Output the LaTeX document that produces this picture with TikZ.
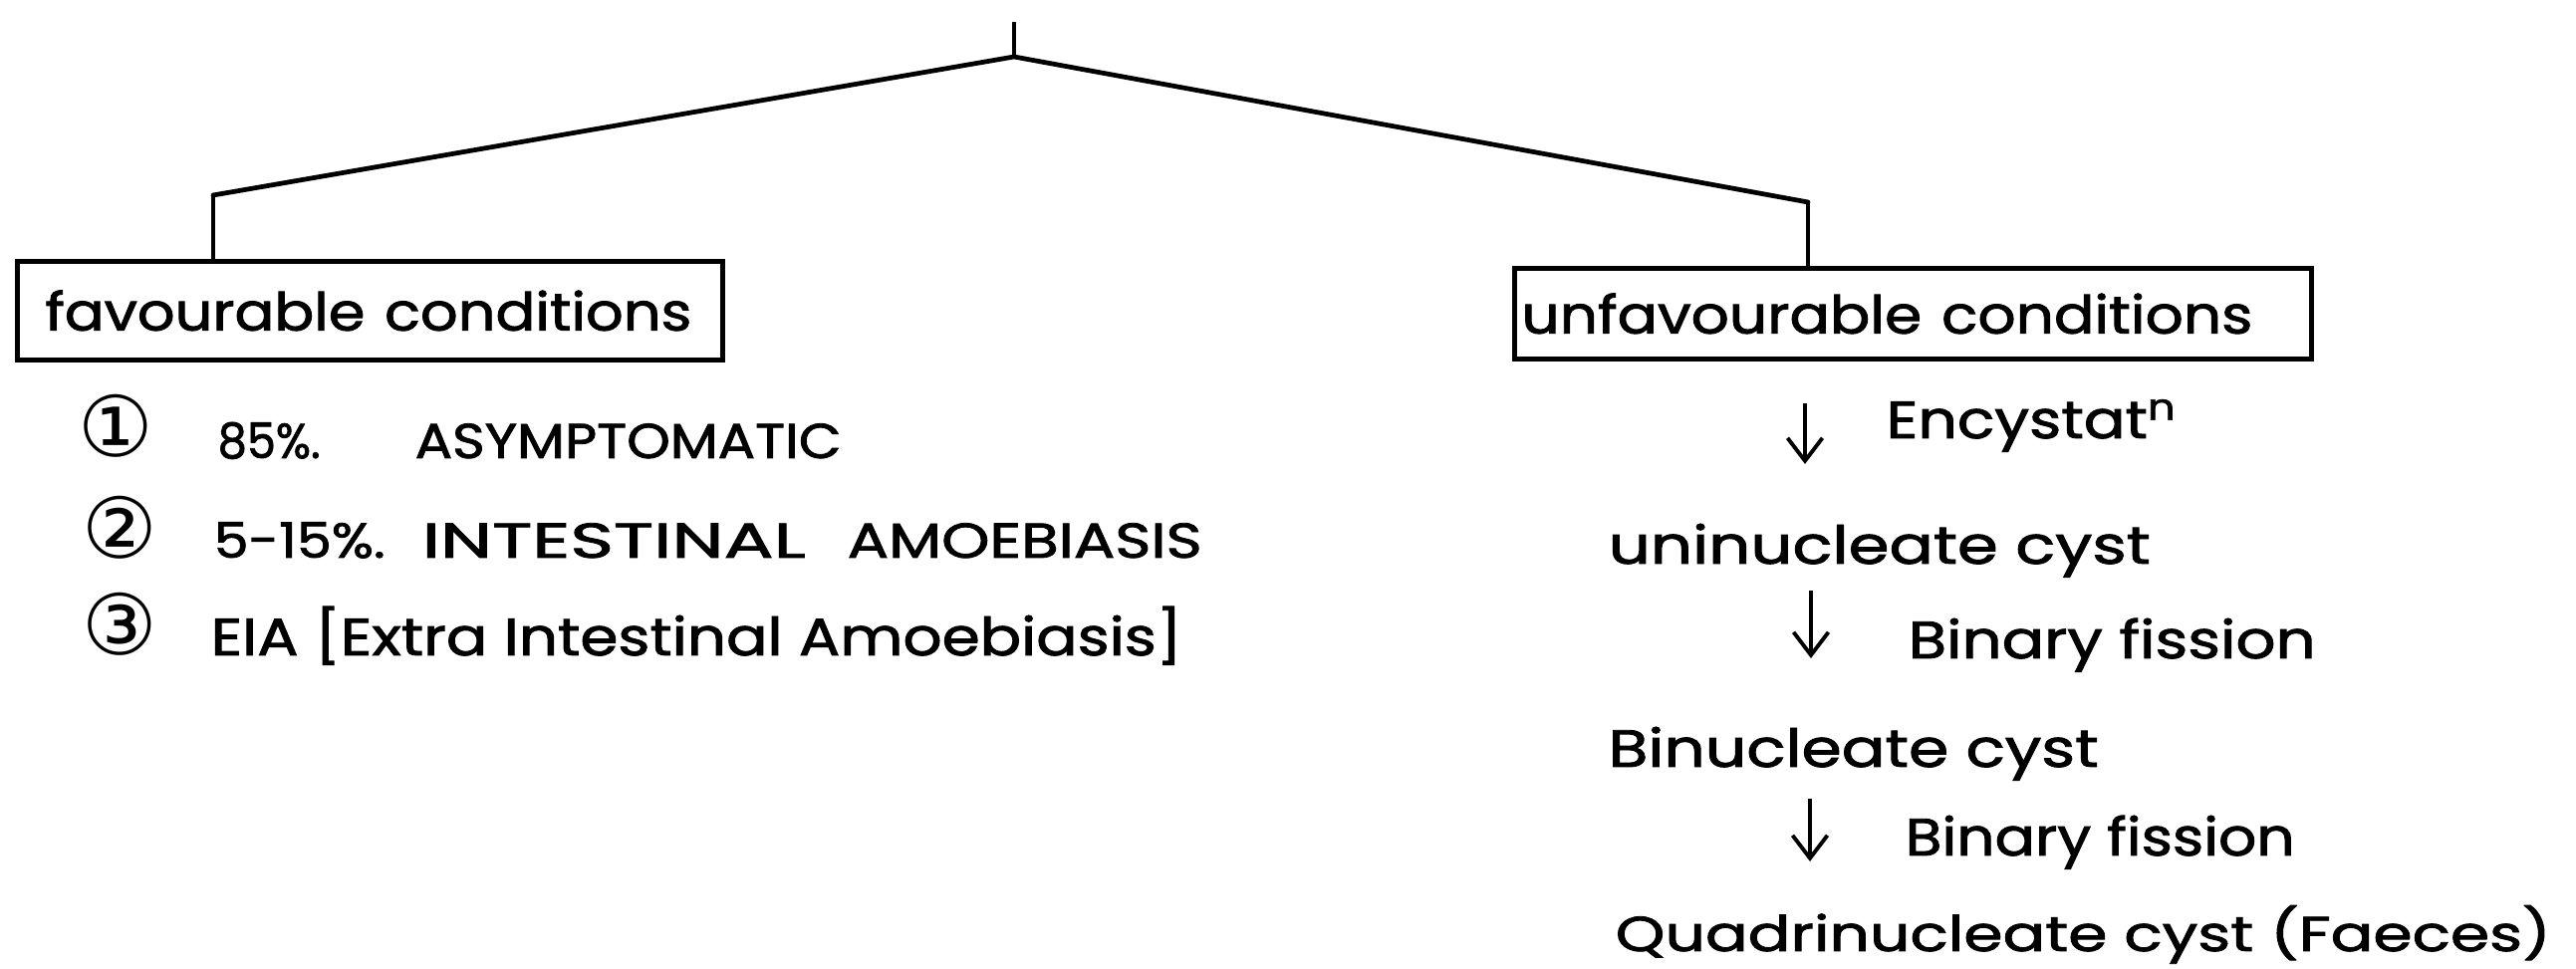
\documentclass[tikz,border=0pt]{standalone}
\usepackage{fontspec}
\usepackage{graphicx}
\setmainfont{Poppins}[FakeBold=1.6]
\newfontfamily\symf{DejaVu Sans}
\usetikzlibrary{arrows.meta}
\newcommand{\fitw}[2]{\resizebox{#1}{\height}{#2}}
\begin{document}
\begin{tikzpicture}[x=0.1mm,y=-0.1mm,
  box/.style={draw, line width=1.35pt, rectangle, anchor=north west, inner ysep=0pt, align=left},
  lbl/.style={anchor=base west, inner sep=0pt, font=\fontsize{15}{18}\selectfont},
  caps/.style={anchor=base west, inner sep=0pt, font=\fontsize{14}{17}\selectfont},
  num/.style={inner sep=0pt, font=\symf\fontsize{24}{28}\selectfont},
  stem/.style={line width=0.95pt},
  branch/.style={line width=1.35pt, line cap=round, line join=round},
  flow/.style={line width=1.1pt, -{Straight Barb[length=2.3mm,width=3.5mm,line width=1.1pt]}}
]
\useasboundingbox (0,0) rectangle (2586,973);
% tree
\coordinate (top) at (1018,22);
\coordinate (apex) at (1018,57);
\coordinate (lc) at (214,196);
\coordinate (rc) at (1815,203);
\node[box, minimum width=70.8mm, minimum height=9.9mm, text width=65.2mm, inner xsep=2.8mm, font=\fontsize{15}{18}\selectfont] (fav) at (15,260) {\fitw{64.9mm}{favourable conditions}};
\node[box, minimum width=80mm, minimum height=9.1mm, text width=78.6mm, inner xsep=0.7mm, font=\fontsize{15}{18}\selectfont] (unfav) at (1518,267) {\fitw{73.4mm}{unfavourable conditions}};
\draw[stem] (top) -- (apex);
\draw[branch] (lc) -- (apex) -- (rc);
\draw[stem] (lc) -- (lc |- fav.north);
\draw[stem] (rc) -- (rc |- unfav.north);
% left list
\node[num] (n1) at (116,428) {①};
\node[num] (n2) at (120,530) {②};
\node[num] (n3) at (120,627) {③};
\node[caps] (t1a) at (218,460) {\fitw{10.3mm}{85\%.}};
\node[caps] (t1b) at (416,460) {\fitw{42.8mm}{ASYMPTOMATIC}};
\node[caps] (t2a) at (214,560) {\fitw{17.2mm}{5-15\%.}};
\node[caps] (t2b) at (423,560) {\fitw{38.5mm}{INTESTINAL}};
\node[caps] (t2c) at (850,560) {\fitw{35.6mm}{AMOEBIASIS}};
\node[lbl] (t3) at (211,658) {\fitw{97.5mm}{EIA [Extra Intestinal Amoebiasis]}};
% right flow
\node[lbl] (enc) at (1893,440) {\fitw{29.2mm}{Encystat\textsuperscript{n}}};
\node[lbl] (uni) at (1614,566) {\fitw{54.4mm}{uninucleate cyst}};
\node[lbl] (bf1) at (1915,661) {\fitw{40.9mm}{Binary fission}};
\node[lbl] (bin) at (1614,770) {\fitw{49.2mm}{Binucleate cyst}};
\node[lbl] (bf2) at (1912,859) {\fitw{39.1mm}{Binary fission}};
\node[lbl, font=\fontsize{14}{17}\selectfont] (quad) at (1621,955) {\fitw{93.9mm}{Quadrinucleate cyst (Faeces)}};
\coordinate (a1s) at (1812,405);
\coordinate (a1e) at (1812,466);
\coordinate (a2s) at (1818,593);
\coordinate (a2e) at (1818,661);
\coordinate (a3s) at (1817,802);
\coordinate (a3e) at (1817,865);
\draw[flow] (a1s) -- (a1e);
\draw[flow] (a2s) -- (a2e);
\draw[flow] (a3s) -- (a3e);
\end{tikzpicture}
\end{document}
